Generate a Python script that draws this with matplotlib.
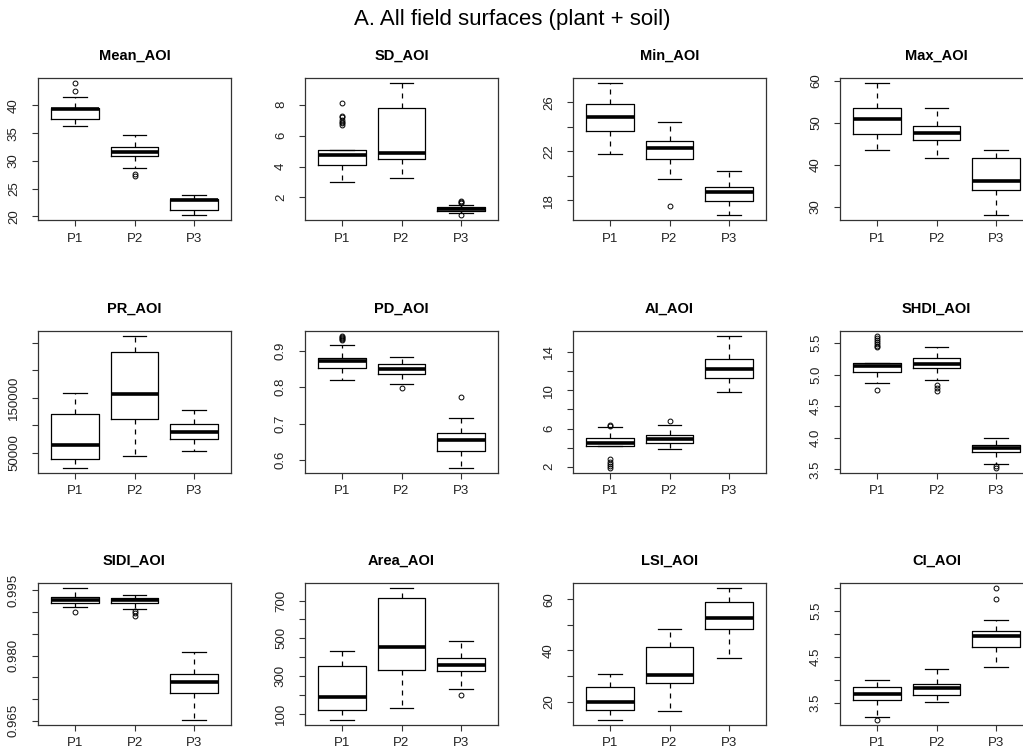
import matplotlib
matplotlib.use('Agg')
import matplotlib.pyplot as plt

plt.rcParams['font.family'] = ['Liberation Sans', 'DejaVu Sans']

groups = ['P1', 'P2', 'P3']

# per group: (lower whisker, q1, median, q3, upper whisker)
mean_aoi = [(36.3, 37.6, 39.3, 39.6, 41.6), (28.8, 30.9, 31.6, 32.5, 34.6), (20.3, 21.2, 22.9, 23.2, 23.9)]
mean_out = [[44.0, 42.6], [27.7, 27.3], []]
sd_aoi = [(3.0, 4.1, 4.73, 5.07, 5.07), (3.28, 4.5, 4.88, 7.76, 9.39), (1.0, 1.12, 1.25, 1.38, 1.5)]
sd_out = [[8.1, 7.3, 7.2, 7.0, 6.9, 6.8, 6.7], [], [1.75, 1.68, 1.62, 0.88]]
min_aoi = [(21.77, 23.68, 24.77, 25.84, 27.56), (19.72, 21.38, 22.28, 22.86, 24.36), (16.82, 17.91, 18.68, 19.06, 20.37)]
min_out = [[], [17.53], []]
max_aoi = [(43.6, 47.4, 50.8, 53.5, 59.4), (41.6, 45.8, 47.6, 49.2, 53.5), (28.1, 34.1, 36.1, 41.5, 43.4)]
max_out = [[], [], []]
pr_aoi = [(22560, 38400, 64630, 119520, 158540), (43290, 110980, 156100, 232330, 261600), (53050, 75000, 88420, 101220, 127450)]
pr_out = [[], [], []]
pd_aoi = [(0.8197, 0.8538, 0.8714, 0.8806, 0.9157), (0.8086, 0.836, 0.851, 0.864, 0.8825), (0.5778, 0.624, 0.6544, 0.6728, 0.7162)]
pd_out = [[0.941, 0.938, 0.935, 0.933, 0.931], [0.7975], [0.7744]]
ai_aoi = [(4.14, 4.14, 4.53, 5.05, 6.14), (3.86, 4.46, 4.95, 5.37, 6.39), (9.79, 11.3, 12.25, 13.26, 15.65)]
ai_out = [[6.42, 6.28, 2.77, 2.53, 2.32, 2.1, 1.9], [6.74], []]
shdi_aoi = [(4.87, 5.05, 5.136, 5.19, 5.19), (4.909, 5.104, 5.178, 5.268, 5.447), (3.59, 3.77, 3.838, 3.885, 4.0)]
shdi_out = [[5.61, 5.58, 5.55, 5.52, 5.49, 5.46, 5.44, 4.76], [4.83, 4.79, 4.75], [3.558, 3.526]]
sidi_aoi = [(0.9912, 0.9922, 0.9929, 0.9936, 0.9955), (0.9908, 0.9922, 0.9928, 0.9933, 0.9939), (0.9652, 0.9713, 0.974, 0.9758, 0.9808)]
sidi_out = [[0.9901], [0.9902, 0.9898, 0.9892], []]
area_aoi = [(70, 121, 190, 353, 436), (130, 335, 454, 712, 765), (234, 325, 360, 396, 488)]
area_out = [[], [], [199]]
lsi_aoi = [(12.9, 16.9, 20.0, 25.75, 30.7), (16.2, 27.3, 30.2, 41.4, 48.2), (36.9, 48.5, 52.8, 59.1, 64.3)]
lsi_out = [[], [], []]
ci_aoi = [(3.186, 3.56, 3.68, 3.833, 4.0), (3.513, 3.673, 3.82, 3.906, 4.24), (4.27, 4.71, 4.95, 5.05, 5.31)]
ci_out = [[3.13], [], [5.99, 5.76]]

titles = ['Mean_AOI', 'SD_AOI', 'Min_AOI', 'Max_AOI',
          'PR_AOI', 'PD_AOI', 'AI_AOI', 'SHDI_AOI',
          'SIDI_AOI', 'Area_AOI', 'LSI_AOI', 'CI_AOI']
stats = [mean_aoi, sd_aoi, min_aoi, max_aoi, pr_aoi, pd_aoi,
         ai_aoi, shdi_aoi, sidi_aoi, area_aoi, lsi_aoi, ci_aoi]
outs = [mean_out, sd_out, min_out, max_out, pr_out, pd_out,
        ai_out, shdi_out, sidi_out, area_out, lsi_out, ci_out]

yticks = [
    [20, 25, 30, 35, 40],
    [2, 4, 6, 8],
    [18, 20, 22, 24, 26],
    [30, 40, 50, 60],
    [50000, 100000, 150000, 200000, 250000],
    [0.6, 0.7, 0.8, 0.9],
    [2, 4, 6, 8, 10, 12, 14],
    [3.5, 4.0, 4.5, 5.0, 5.5],
    [0.965, 0.970, 0.975, 0.980, 0.985, 0.990, 0.995],
    [100, 200, 300, 400, 500, 600, 700],
    [20, 30, 40, 50, 60],
    [3.5, 4.0, 4.5, 5.0, 5.5, 6.0],
]
ylabels = [
    ['20', '25', '30', '35', '40'],
    ['2', '4', '6', '8'],
    ['18', '', '22', '', '26'],
    ['30', '40', '50', '60'],
    ['50000', '', '150000', '', ''],
    ['0.6', '0.7', '0.8', '0.9'],
    ['2', '', '6', '', '10', '', '14'],
    ['3.5', '4.0', '4.5', '5.0', '5.5'],
    ['0.965', '', '', '0.980', '', '', '0.995'],
    ['100', '', '300', '', '500', '', '700'],
    ['20', '', '40', '', '60'],
    ['3.5', '', '4.5', '', '5.5', ''],
]

W, H = 1023, 751
fig = plt.figure(figsize=(W / 100, H / 100), dpi=100)
fig.text(512 / W, 1 - 20 / H, 'A. All field surfaces (plant + soil)',
         ha='center', va='center', fontsize=16)

lefts = [38, 305, 573, 840]
tops = [78, 331, 583]
aw, ah = 193, 142
frame = '#333333'

for i in range(12):
    r, c = divmod(i, 4)
    ax = fig.add_axes([lefts[c] / W, 1 - (tops[r] + ah) / H, aw / W, ah / H])
    bx = []
    for k, s in enumerate(stats[i]):
        bx.append(dict(whislo=s[0], q1=s[1], med=s[2], q3=s[3], whishi=s[4],
                       fliers=outs[i][k], label=groups[k]))
    ax.bxp(bx, positions=[1, 2, 3], widths=0.8,
           boxprops=dict(color='black', lw=0.9),
           medianprops=dict(color='black', lw=2.6, solid_capstyle='butt'),
           whiskerprops=dict(color='black', lw=0.9, linestyle=(0, (4, 4))),
           capprops=dict(color='black', lw=0.9),
           flierprops=dict(marker='o', markersize=3.5, markerfacecolor='none',
                           markeredgecolor='black', markeredgewidth=0.7))
    ax.set_xlim(0.38, 3.62)
    ax.margins(y=0.04)
    ax.set_yticks(yticks[i])
    ax.set_yticklabels(ylabels[i], rotation=90, va='center')
    ax.set_xticks([1, 2, 3])
    ax.set_xticklabels(groups)
    ax.tick_params(length=4, width=0.8, color=frame, labelsize=9.5,
                   labelcolor='#222222')
    ax.tick_params(axis='y', pad=9)
    ax.tick_params(axis='x', pad=5)
    for sp in ax.spines.values():
        sp.set_color(frame)
        sp.set_linewidth(0.9)
    ax.set_title(titles[i], fontsize=10.5, fontweight='bold', pad=13)

fig.savefig('out.png', dpi=100)
